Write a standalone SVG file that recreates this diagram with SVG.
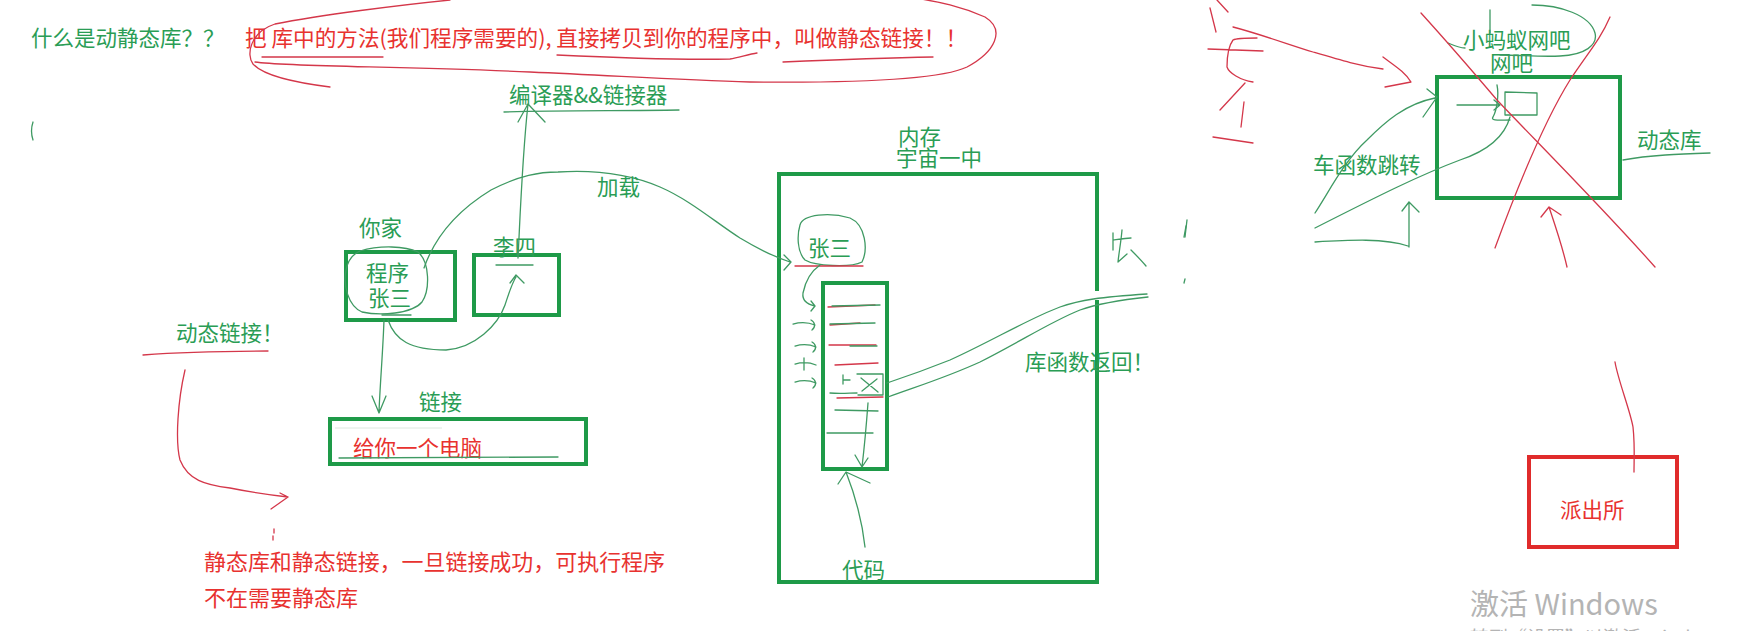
<svg xmlns="http://www.w3.org/2000/svg" width="1758" height="631" viewBox="0 0 1758 631">
<style>
text{font-family:"Noto Sans CJK SC","Noto Sans",sans-serif;font-size:21.5px}
.g{fill:#2a9d55}
.r{fill:#e8322f}
.box{fill:none;stroke:#1e9a48;stroke-width:4}
.rbox{fill:none;stroke:#e02b2b;stroke-width:4}
.gl{fill:none;stroke:#3f9a63;stroke-width:1.3;stroke-linecap:round;stroke-linejoin:round}
.rl{fill:none;stroke:#d4374a;stroke-width:1.3;stroke-linecap:round;stroke-linejoin:round}
.wm{fill:#b4b4b4}
</style>
<rect width="1758" height="631" fill="#ffffff"/>

<g id="title">
<text class="g" x="31" y="46">什么是动静态库？？</text>
<text class="r" x="245" y="46" textLength="722" lengthAdjust="spacingAndGlyphs">把 库中的方法(我们程序需要的), 直接拷贝到你的程序中，叫做静态链接！！</text>
<path class="rl" d="M450,0 C400,5 320,15 275,24 C250,32 246,55 253,64 C262,74 290,82 330,87"/>
<path class="rl" d="M255,62 C290,67 400,66 530,72 C620,76 680,80 750,82 C850,83 940,80 967,67 C995,52 1006,30 985,17 C960,6 940,2 915,-2"/>
<path class="rl" d="M262,57 L383,57 M557,55 C620,58 680,60 730,59 C740,57 750,54 757,53 M783,62 C830,60 880,58 933,57"/>
<path class="gl" d="M33,122 C31,128 31,134 33,140"/>
</g>

<g id="node-compiler">
<text class="g" x="509" y="103">编译器&amp;&amp;链接器</text>
<path class="gl" d="M504,112 C560,110 620,111 679,110"/>
</g>

<g id="node-home">
<text class="g" x="359" y="236">你家</text>
<rect class="box" x="346" y="252" width="109" height="68"/>
<text class="g" x="366" y="281">程序</text>
<text class="g" x="368" y="306">张三</text>
<path class="gl" d="M382,315 L411,315"/>
<path class="gl" d="M360,251 C380,245 405,246 418,252 C430,262 430,290 422,302 C412,314 380,316 362,312 C348,306 343,285 346,270 C348,260 353,254 360,251"/>
</g>

<g id="node-lisi">
<rect class="box" x="474" y="255" width="85" height="60"/>
<text class="g" x="493" y="255">李四</text>
<path class="gl" d="M496,265 L533,265"/>
</g>

<g id="node-link">
<text class="g" x="419" y="410">链接</text>
<rect class="box" x="330" y="419" width="256" height="45"/>
<text class="r" x="353" y="456">给你一个电脑</text>
<path class="gl" d="M339,458 C420,458 500,457 558,457"/>
<path d="M335,428 L442,428" stroke="#dde8e0" stroke-width="1" fill="none"/>
</g>

<g id="node-dynamic-link">
<text class="g" x="176" y="341">动态链接！</text>
<path class="rl" d="M143,355 C180,352 230,351 268,351"/>
</g>

<g id="node-static-note">
<text class="r" x="204" y="570" style="font-size:22px" textLength="461" lengthAdjust="spacingAndGlyphs">静态库和静态链接，一旦链接成功，可执行程序</text>
<text class="r" x="204" y="606" style="font-size:22px">不在需要静态库</text>
<path class="rl" d="M274,529 L274,533 M273,536 L273,540"/>
</g>

<g id="node-memory">
<text class="g" x="898" y="145">内存</text>
<text class="g" x="896" y="166">宇宙一中</text>
<path class="box" d="M1097,291 V174 H779 V582 H1097 V300"/>
<text class="g" x="808" y="256">张三</text>
<path class="gl" d="M800,225 C803,214 830,212 850,218 C866,225 868,250 862,262 C850,268 815,266 805,260 C797,252 797,235 800,225"/>
<path class="rl" d="M795,266 L863,266"/>
<text class="g" x="1025" y="370">库函数返回！</text>
<text class="g" x="842" y="578">代码</text>
<path class="gl" d="M1113,233 L1113,250 M1113,240 C1120,239 1126,238 1131,238 M1122,230 C1121,242 1119,252 1118,262 L1127,254 M1131,250 C1136,255 1141,260 1146,266 M1186,226 L1184,237 M1185,279 L1184,283"/>
</g>

<g id="node-code-block">
<rect class="box" x="823" y="283" width="64" height="186"/>
<path class="rl" d="M828,307 L875,305 M830,325 L860,323 M829,345 L876,345 M835,365 L878,363 M837,398 L883,397"/>
<path class="gl" d="M832,306 L880,305 M830,324 L875,323 M850,346 L877,346 M830,393 C840,394 850,393 857,393 M835,410 L878,411 M827,433 L873,433"/>
<path class="gl" d="M843,375 L843,384 M843,380 L850,380 M857,374 L883,374 L883,395 L858,395 M861,378 L878,392 M877,379 L862,391"/>
<path class="gl" d="M868,403 C866,430 864,450 862,467 M855,455 L862,467 L868,458"/>
</g>

<g id="node-wangba">
<text class="g" x="1463" y="48">小蚂蚁网吧</text>
<text class="g" x="1490" y="71">网吧</text>
<rect class="box" x="1437" y="77" width="183" height="121"/>
<path class="gl" d="M1490,10 L1490,33"/>
<path class="gl" d="M1532,5 C1560,5 1590,15 1595,33 C1598,45 1585,55 1560,56 C1540,57 1520,55 1500,55 M1448,43 C1455,46 1460,48 1465,48"/>
<path class="gl" d="M1505,92 L1537,93 L1537,115 L1505,115 M1505,92 L1505,115"/>
<path class="gl" d="M1497,85 C1499,95 1497,110 1493,117 C1490,121 1500,120 1510,120"/>
<text class="g" x="1637" y="148">动态库</text>
<path class="gl" d="M1623,160 C1650,155 1680,154 1710,153"/>
<text class="g" x="1313" y="173">车函数跳转</text>
</g>

<g id="node-police">
<rect class="rbox" x="1529" y="457" width="148" height="90"/>
<text class="r" x="1560" y="518">派出所</text>
</g>

<g id="watermark">
<text class="wm" x="1470" y="615" style="font-size:29px">激活 Windows</text>
<text class="wm" x="1470" y="645" style="font-size:19px">转到“设置”以激活 Windows。</text>
</g>

<g id="connectors">
<path class="gl" d="M518,258 C520,220 522,160 528,104 M518,122 L528,104 L545,122"/>
<path class="gl" d="M388,320 C395,340 410,350 446,350 C475,348 498,325 505,305 C510,290 512,283 516,277 M510,283 L516,275 L524,283"/>
<path class="gl" d="M424,268 C432,245 450,215 491,190 C520,175 540,172 558,172 C590,170 625,172 660,187 C690,200 715,222 740,238 C760,250 775,257 790,262 M784,255 L791,262 L784,270"/>
<text class="g" x="597" y="195">加载</text>
<path class="gl" d="M384,320 C383,350 380,385 379,412 M372,396 L379,413 L386,396"/>
<path class="rl" d="M185,370 C178,400 175,440 180,460 C188,480 205,485 230,488 C250,492 270,495 288,497 M280,493 L288,497 L271,509"/>
<path class="gl" d="M820,265 C810,272 805,283 803,293 C802,300 806,304 815,306 M811,301 L815,306 L811,311"/>
<path class="gl" d="M793,324 C800,322 808,322 815,325 M811,320 C815,322 816,327 812,330 M795,346 C802,344 809,344 816,347 M812,342 C816,344 817,349 813,352 M795,364 C802,362 809,362 816,365 M804,358 L804,370 M795,382 C802,380 809,380 816,383 M812,378 C816,380 817,385 813,388"/>
<path class="gl" d="M887,383 C905,377 925,370 950,360 C990,342 1030,318 1060,307 C1080,300 1100,297 1147,294"/>
<path class="gl" d="M888,397 C915,387 945,378 980,362 C1020,342 1050,322 1080,310 C1100,303 1120,300 1148,297"/>
<path class="gl" d="M865,547 C862,520 855,495 846,472 M838,484 L846,472 L870,483"/>
<path class="rl" d="M1421,13 C1450,45 1480,80 1497,100 C1530,135 1600,205 1655,267"/>
<path class="rl" d="M1610,17 C1600,40 1590,50 1570,80 C1545,120 1520,180 1495,248"/>
<path class="rl" d="M1567,267 C1562,245 1555,225 1549,207 M1541,217 L1549,207 L1561,215"/>
<path class="rl" d="M1615,362 C1618,380 1630,410 1633,427 C1635,445 1634,460 1634,472"/>
<path class="rl" d="M1233,27 C1260,34 1290,45 1313,52 C1340,60 1360,66 1383,69 M1383,57 C1395,66 1405,72 1411,82 L1385,87"/>
<path class="rl" d="M1210,8 L1216,32 M1217,0 L1228,12 M1257,38 C1245,38 1235,39 1233,40 C1227,48 1227,60 1227,67 C1229,73 1240,80 1253,82 M1208,49 L1263,51 M1245,83 L1220,110 M1244,102 L1241,127 M1213,137 L1253,143"/>
<path class="gl" d="M1510,117 C1505,135 1490,150 1460,160 C1420,175 1380,195 1315,228"/>
<path class="gl" d="M1315,213 C1330,190 1345,160 1367,140 C1385,122 1405,104 1435,98 M1427,89 L1437,97 L1423,117"/>
<path class="gl" d="M1315,242 C1350,240 1385,238 1408,246 M1409,247 L1409,202 M1402,211 L1409,202 L1419,212"/>
<path class="gl" d="M1457,105 L1500,105 M1494,100 L1500,105 L1494,110"/>
<path class="gl" d="M1187,220 L1185,237"/>
</g>
</svg>
